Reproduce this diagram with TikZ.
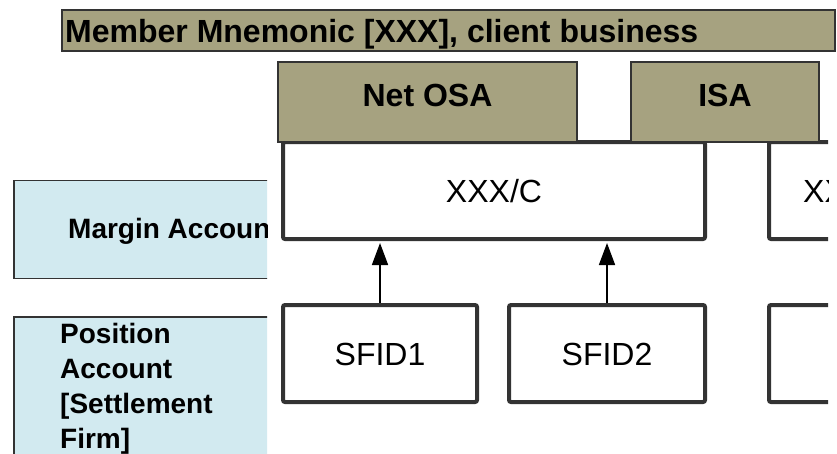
\documentclass[tikz,border=0pt]{standalone}
\usepackage{fontspec}
\setmainfont{Liberation Sans}
\usetikzlibrary{arrows.meta,calc}
\definecolor{tanfill}{HTML}{A6A280}
\definecolor{bluefill}{HTML}{D2EAF0}
\definecolor{bordc}{HTML}{333333}
\begin{document}
\begin{tikzpicture}[x=1pt,y=-1pt,
  hdr/.style={draw=bordc, line width=2pt, fill=tanfill, inner sep=0pt, font=\fontsize{32}{38}\selectfont\bfseries},
  acct/.style={draw=bordc, line width=4pt, fill=white, rounded corners=2pt, inner sep=0pt, font=\fontsize{32}{38}\selectfont, text height=23pt, text depth=0pt},
  lbl/.style={draw=bordc, line width=1.8pt, fill=bluefill, inner sep=0pt},
  lbltext/.style={inner sep=0pt, font=\fontsize{28}{35}\selectfont\bfseries, align=left},
  plaintext/.style={inner sep=0pt, font=\fontsize{32}{38}\selectfont},
  up/.style={-{Triangle[width=16pt,length=22pt]}, line width=1.6pt, draw=black}]
\useasboundingbox (0,0) rectangle (837,453);
\fill[white] (0,0) rectangle (837,453);
% left labels
\begin{scope}
  \clip (0,0) rectangle (267,453);
  \node[lbl, minimum width=300pt, minimum height=98pt] (ma) at (164,229.5) {};
  \node[lbltext, anchor=base west] (matext) at (68,238) {Margin Account};
  \node[lbl, minimum width=300pt, minimum height=160pt] (pa) at (164,397) {};
  \node[lbltext, anchor=north west] (patext) at (60,318) {\rule{0pt}{25pt}Position\\Account\\{[}Settlement\\Firm]};
\end{scope}
% account boxes
\node[acct, minimum width=422pt, minimum height=97pt] (m1) at (494,190.5) {XXX/C};
\node[acct, minimum width=194pt, minimum height=97pt] (s1) at (380,353.5) {SFID1};
\node[acct, minimum width=196pt, minimum height=97pt] (s2) at (607,353.5) {SFID2};
\begin{scope}
  \clip (0,0) rectangle (828,453);
  \node[acct, minimum width=300pt, minimum height=97pt] (m2) at (919,190.5) {};
  \node[plaintext, anchor=base west] (m2text) at (803,202) {XXX/C};
  \node[acct, minimum width=300pt, minimum height=97pt] (s3) at (919,353.5) {};
\end{scope}
% header boxes
\node[hdr, minimum width=773pt, minimum height=40.5pt] (banner) at (448.5,30.25) {};
\node[inner sep=0pt, anchor=base west, font=\fontsize{32}{38}\selectfont\bfseries] (bannertext) at (65,42) {Member Mnemonic [XXX], client business};
\node[hdr, minimum width=299pt, minimum height=80pt, text height=23pt, text depth=15pt] (netosa) at (427.5,102) {Net OSA};
\node[hdr, minimum width=188pt, minimum height=80pt, text height=23pt, text depth=15pt] (isa) at (725,102) {ISA};
% arrows
\draw[up] (s1.north) -- ($(s1.north |- m1.south)+(0,2)$);
\draw[up] (s2.north) -- ($(s2.north |- m1.south)+(0,2)$);
\end{tikzpicture}
\end{document}
